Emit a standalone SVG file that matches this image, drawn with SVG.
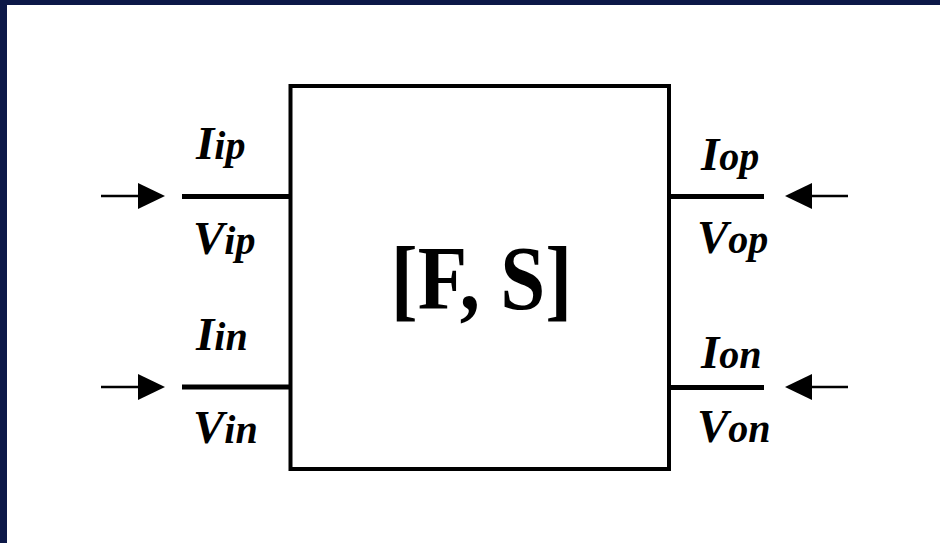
<svg xmlns="http://www.w3.org/2000/svg" width="940" height="543" viewBox="0 0 940 543">
<defs>
<style>
.lbl{font-family:"Liberation Serif","Times New Roman",serif;font-weight:bold;font-style:italic;font-size:40px;fill:#000}
.cap{font-size:47px}
.ttl{font-family:"Liberation Serif","Times New Roman",serif;font-weight:bold;font-size:81px;fill:#000}
.lead{stroke:#000;stroke-width:5;fill:none}
.shaft{stroke:#000;stroke-width:2.5;fill:none}
</style>
</defs>
<rect x="0" y="0" width="940" height="543" fill="#fff"/>
<rect x="0" y="0" width="940" height="5" fill="#0c1848"/>
<rect x="0" y="0" width="7" height="543" fill="#0c1848"/>
<g id="block">
<rect x="290.5" y="86" width="378.5" height="383" fill="none" stroke="#000" stroke-width="4"/>
<text class="ttl" transform="translate(481.5,309) scale(1,1.12)" x="0" y="0" text-anchor="middle">[F, S]</text>
</g>
<g id="port-ip">
<text class="lbl" x="196" y="159"><tspan class="cap">I</tspan>ip</text>
<text class="lbl" x="193" y="254"><tspan class="cap">V</tspan>ip</text>
</g>
<g id="port-in">
<text class="lbl" x="196" y="350"><tspan class="cap">I</tspan>in</text>
<text class="lbl" x="193" y="443"><tspan class="cap">V</tspan>in</text>
</g>
<g id="port-op">
<text class="lbl" x="701" y="170"><tspan class="cap">I</tspan>op</text>
<text class="lbl" x="697" y="253"><tspan class="cap">V</tspan>op</text>
</g>
<g id="port-on">
<text class="lbl" x="701" y="368"><tspan class="cap">I</tspan>on</text>
<text class="lbl" x="697" y="442"><tspan class="cap">V</tspan>on</text>
</g>
<g id="connectors">
<line class="lead" x1="182" y1="196.5" x2="290.5" y2="196.5"/>
<line class="lead" x1="182" y1="387" x2="290.5" y2="387"/>
<line class="lead" x1="669" y1="196.5" x2="764" y2="196.5"/>
<line class="lead" x1="669" y1="387.5" x2="764" y2="387.5"/>
<line class="shaft" x1="101" y1="196" x2="140" y2="196"/>
<polygon points="138,183 165,196 138,209"/>
<line class="shaft" x1="101" y1="387" x2="140" y2="387"/>
<polygon points="138,374 165,387 138,400"/>
<line class="shaft" x1="810" y1="196" x2="848" y2="196"/>
<polygon points="812,183 785,196 812,209"/>
<line class="shaft" x1="810" y1="387" x2="848" y2="387"/>
<polygon points="812,374 785,387 812,400"/>
</g>
</svg>
